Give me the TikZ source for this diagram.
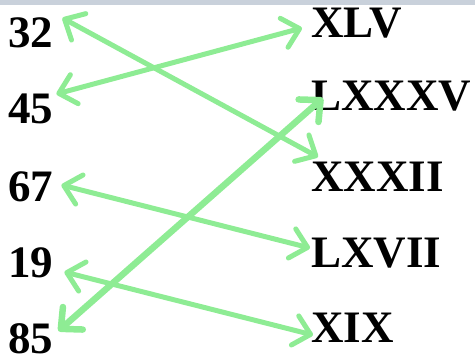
\documentclass[tikz,border=0pt]{standalone}
\usepackage{fontspec}
\setmainfont{Liberation Serif}
\usepackage{xcolor}
\usepackage{tikz}
\usetikzlibrary{arrows.meta, positioning, calc}
\definecolor{matchgreen}{HTML}{8EEC94}
\definecolor{topbar}{HTML}{C9D1DB}

\begin{document}
\begin{tikzpicture}[x=1pt, y=-1pt,
  num/.style={inner sep=0pt, anchor=base west, font=\fontsize{45}{50}\selectfont\bfseries},
  roman/.style={inner sep=0pt, anchor=base west, font=\fontsize{45}{50}\selectfont\bfseries},
  link/.style={{Straight Barb[length=16pt, width=30pt, round]}-{Straight Barb[length=16pt, width=30pt, round]},
    line width=5pt, line cap=round, draw=matchgreen}]
  \useasboundingbox (0,0) rectangle (475,355);
  \fill[topbar] (0,0) rectangle (475,5);
  % numbers
  \node[num] (n32) at (8,48) {32};
  \node[num] (n45) at (8,124) {45};
  \node[num] (n67) at (8,202) {67};
  \node[num] (n19) at (8,278) {19};
  \node[num] (n85) at (8,354) {85};
  % numerals
  \node[roman] (rXLV) at (311,38) {XLV};
  \node[roman] (rLXXXV) at (311,111) {LXXXV};
  \node[roman] (rXXXII) at (311,192) {XXXII};
  \node[roman] (rLXVII) at (311,268) {LXVII};
  \node[roman] (rXIX) at (311,343) {XIX};
  \draw[link] ([shift={(9,-30)}]n32.base east) -- ([shift={(7,-35)}]rXXXII.base west);
  \draw[link] ([shift={(3,-30)}]n45.base east) -- ([shift={(-9,-10)}]rXLV.base west);
  \draw[link, line width=6.5pt] ([shift={(5,-23)}]n85.base east) -- ([shift={(12,-13)}]rLXXXV.base west);
  \draw[link] ([shift={(8,-17)}]n67.base east) -- ([shift={(-1,-20)}]rLXVII.base west);
  \draw[link] ([shift={(11,-6)}]n19.base east) -- ([shift={(2,-8)}]rXIX.base west);
\end{tikzpicture}
\end{document}
